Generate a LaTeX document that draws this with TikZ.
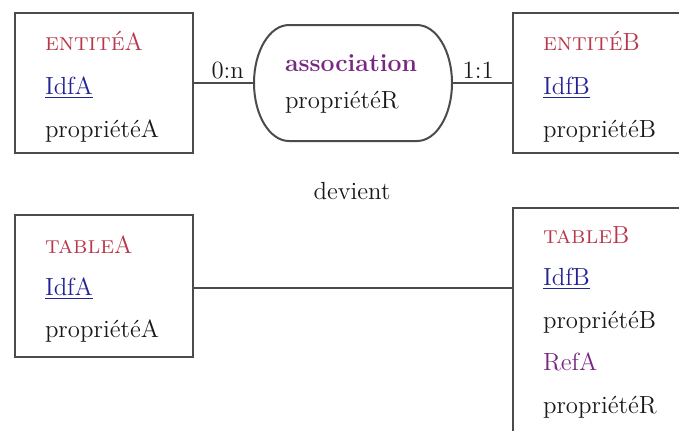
\documentclass[tikz,border=0pt]{standalone}
\usepackage{fontspec}
\definecolor{entcol}{RGB}{185,55,75}
\definecolor{idcol}{RGB}{35,35,150}
\definecolor{asscol}{RGB}{120,40,130}
\definecolor{linecol}{RGB}{75,75,75}
\definecolor{txtcol}{RGB}{25,25,25}
\begin{document}
\begin{tikzpicture}[x=0.5pt,y=-0.5pt,
  every node/.style={font=\fontsize{12.4}{15}\selectfont, text=txtcol, inner sep=0pt, outer sep=0pt},
  link/.style={draw=linecol, line width=1pt},
  boxnode/.style={draw=linecol, line width=1pt, rectangle},
  txt/.style={anchor=base west},
  card/.style={anchor=base, yshift=2.5pt},
  ent/.style={txt, text=entcol},
  idf/.style={txt, text=idcol},
  ass/.style={txt, text=asscol, font=\fontsize{12.4}{15}\selectfont\bfseries}]
\useasboundingbox (0,0) rectangle (679,430);
\clip (0,0) rectangle (679,430);

% entity A
\node[boxnode, minimum width=89pt, minimum height=70pt] (entA) at (104,83) {};
\node[ent] (entAt) at (45,50) {\textsc{entité}A};
\node[idf] (entAi) at (45,94) {\underline{IdfA}};
\node[txt] (entAp) at (45,137) {propriétéA};

% association (stadium outline)
\node[minimum width=99pt, minimum height=58pt] (assoc) at (353,83) {};
\draw[link] ([xshift=17.5pt]assoc.north west) -- ([xshift=-17.5pt]assoc.north east)
  arc[start angle=90, end angle=-90, x radius=17.5pt, y radius=29pt]
  -- ([xshift=17.5pt]assoc.south west)
  arc[start angle=270, end angle=90, x radius=17.5pt, y radius=29pt] -- cycle;
\node[ass] (assn) at (285,71) {association};
\node[txt] (assp) at (285,108) {propriétéR};

% entity B
\node[boxnode, minimum width=103.5pt, minimum height=70pt] (entB) at (616.5,83) {};
\node[ent] (entBt) at (543,50) {\textsc{entité}B};
\node[idf] (entBi) at (543,94) {\underline{IdfB}};
\node[txt] (entBp) at (543,137) {propriétéB};

% links with cardinalities
\draw[link] (entA.east) -- node[card, pos=0.57] {0:n} (assoc.west);
\draw[link] (assoc.east) -- node[card, pos=0.43] {1:1} (entB.west);

\node[anchor=base] (dev) at (352,199) {devient};

% table A
\node[boxnode, minimum width=89pt, minimum height=71pt] (tabA) at (104,286) {};
\node[ent] (tabAt) at (45,253) {\textsc{table}A};
\node[idf] (tabAi) at (45,295) {\underline{IdfA}};
\node[txt] (tabAp) at (45,337) {propriétéA};

% table B
\node[boxnode, minimum width=103.5pt, minimum height=126pt] (tabB) at (616.5,334) {};
\node[ent] (tabBt) at (543,243) {\textsc{table}B};
\node[idf] (tabBi) at (543,285.5) {\underline{IdfB}};
\node[txt] (tabBp) at (543,328) {propriétéB};
\node[txt, text=asscol] (tabBr) at (543,370.5) {RefA};
\node[txt] (tabBq) at (543,413) {propriétéR};

% foreign key link
\coordinate (lnk) at (0,288);
\draw[link] (tabA.east |- lnk) -- (tabB.west |- lnk);
\end{tikzpicture}
\end{document}
